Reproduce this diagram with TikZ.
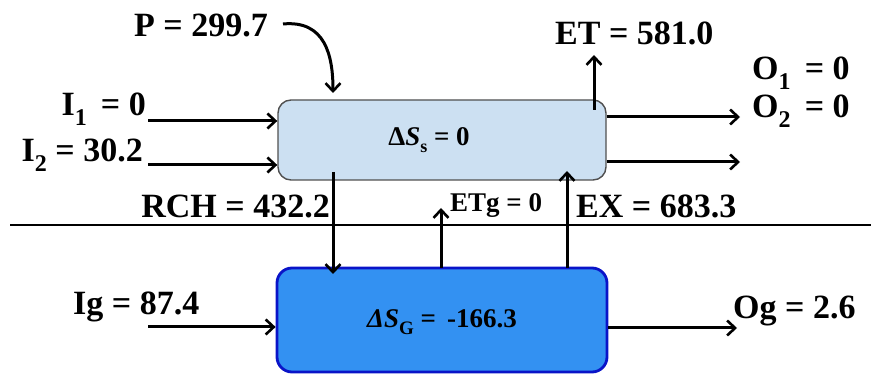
\documentclass[tikz,border=0pt]{standalone}
\usepackage{fontspec}
\setmainfont{Liberation Serif}
\usetikzlibrary{arrows.meta}
\definecolor{topfill}{RGB}{204,224,242}
\definecolor{topdraw}{RGB}{80,80,80}
\definecolor{botfill}{RGB}{51,145,242}
\definecolor{botdraw}{RGB}{10,20,200}
\tikzset{
  arr/.style={line width=3pt,-{Straight Barb[length=8pt,width=15pt,line width=2.6pt]}},
  lbl/.style={inner sep=0pt,font=\fontsize{34}{36}\selectfont\bfseries},
  slbl/.style={inner sep=0pt,font=\fontsize{27}{29}\selectfont\bfseries},
  topbox/.style={draw=topdraw,line width=1.4pt,fill=topfill,rounded corners=13pt,minimum width=328pt,minimum height=80pt,inner sep=0pt},
  botbox/.style={draw=botdraw,line width=2.8pt,fill=botfill,rounded corners=15pt,minimum width=330pt,minimum height=104pt,inner sep=0pt}
}
\newcommand{\sbs}[1]{\raisebox{-0.28em}{\fontsize{24}{26}\selectfont #1}}
\begin{document}
\begin{tikzpicture}[x=1pt,y=-1pt]
\useasboundingbox (0,0) rectangle (871,374);
\node[topbox] (top) at (442,140) {};
\node[botbox] (bot) at (442,320) {};
\node[inner sep=0pt,font=\fontsize{27}{29}\selectfont\bfseries] (ts) at (429,140) {Δ\textit{S}\raisebox{-0.25em}{\fontsize{18}{20}\selectfont s} = 0};
\node[inner sep=0pt,font=\fontsize{27}{29}\selectfont\bfseries] (bs) at (442,322) {\textit{ΔS}\raisebox{-0.25em}{\fontsize{19}{21}\selectfont G} =\, -166.3};
% separator
\coordinate (sepl) at (10,225);
\coordinate (sepr) at (871,225);
\draw[line width=1.3pt] (sepl) -- (sepr);
% inputs
\coordinate (i1s) at (148,121);
\coordinate (i2s) at (148,165);
\coordinate (igs) at (148,327);
\draw[arr] (i1s) -- (i1s -| top.west);
\draw[arr] (i2s) -- (i2s -| top.west);
\draw[arr] (igs) -- (igs -| bot.west);
\node[lbl,anchor=base east] (i1) at (146,116) {I\sbs{1}\, = 0};
\node[lbl,anchor=base east] (i2) at (143,162) {I\sbs{2} = 30.2};
\node[lbl,anchor=base west] (ig) at (73,315) {Ig = 87.4};
% P
\node[lbl,anchor=base east] (p) at (268,37) {P = 299.7};
\coordinate (ps) at (283,24);
\coordinate (pe) at (333,93);
\draw[arr] (ps) .. controls (325,20) and (333,55) .. (pe);
% outputs
\coordinate (o1e) at (740,117);
\coordinate (o2e) at (740,162);
\coordinate (oge) at (737,328);
\draw[arr] (o1e -| top.east) -- (o1e);
\draw[arr] (o2e -| top.east) -- (o2e);
\draw[arr] (oge -| bot.east) -- (oge);
\node[lbl,anchor=base west] (o1) at (752,80) {O\sbs{1}\, = 0};
\node[lbl,anchor=base west] (o2) at (752,118) {O\sbs{2}\, = 0};
\node[lbl,anchor=base west] (og) at (733,319) {Og = 2.6};
% ET
\coordinate (ets) at (594,110);
\coordinate (ete) at (594,55);
\draw[arr] (ets) -- (ete);
\node[lbl,anchor=base west] (et) at (555,45) {ET = 581.0};
% RCH
\coordinate (rchs) at (333,172);
\coordinate (rche) at (333,274);
\draw[arr] (rchs) -- (rche);
\node[lbl,anchor=base east] (rch) at (330,218) {RCH = 432.2};
% ETg
\coordinate (etgs) at (441,268);
\coordinate (etge) at (441,208);
\draw[arr] (etgs) -- (etge);
\node[slbl,anchor=base west] (etg) at (450,212) {ETg = 0};
% EX
\coordinate (exs) at (567,268);
\coordinate (exe) at (567,171);
\draw[arr] (exs) -- (exe);
\node[lbl,anchor=base west] (ex) at (576,218) {EX = 683.3};
\end{tikzpicture}
\end{document}
